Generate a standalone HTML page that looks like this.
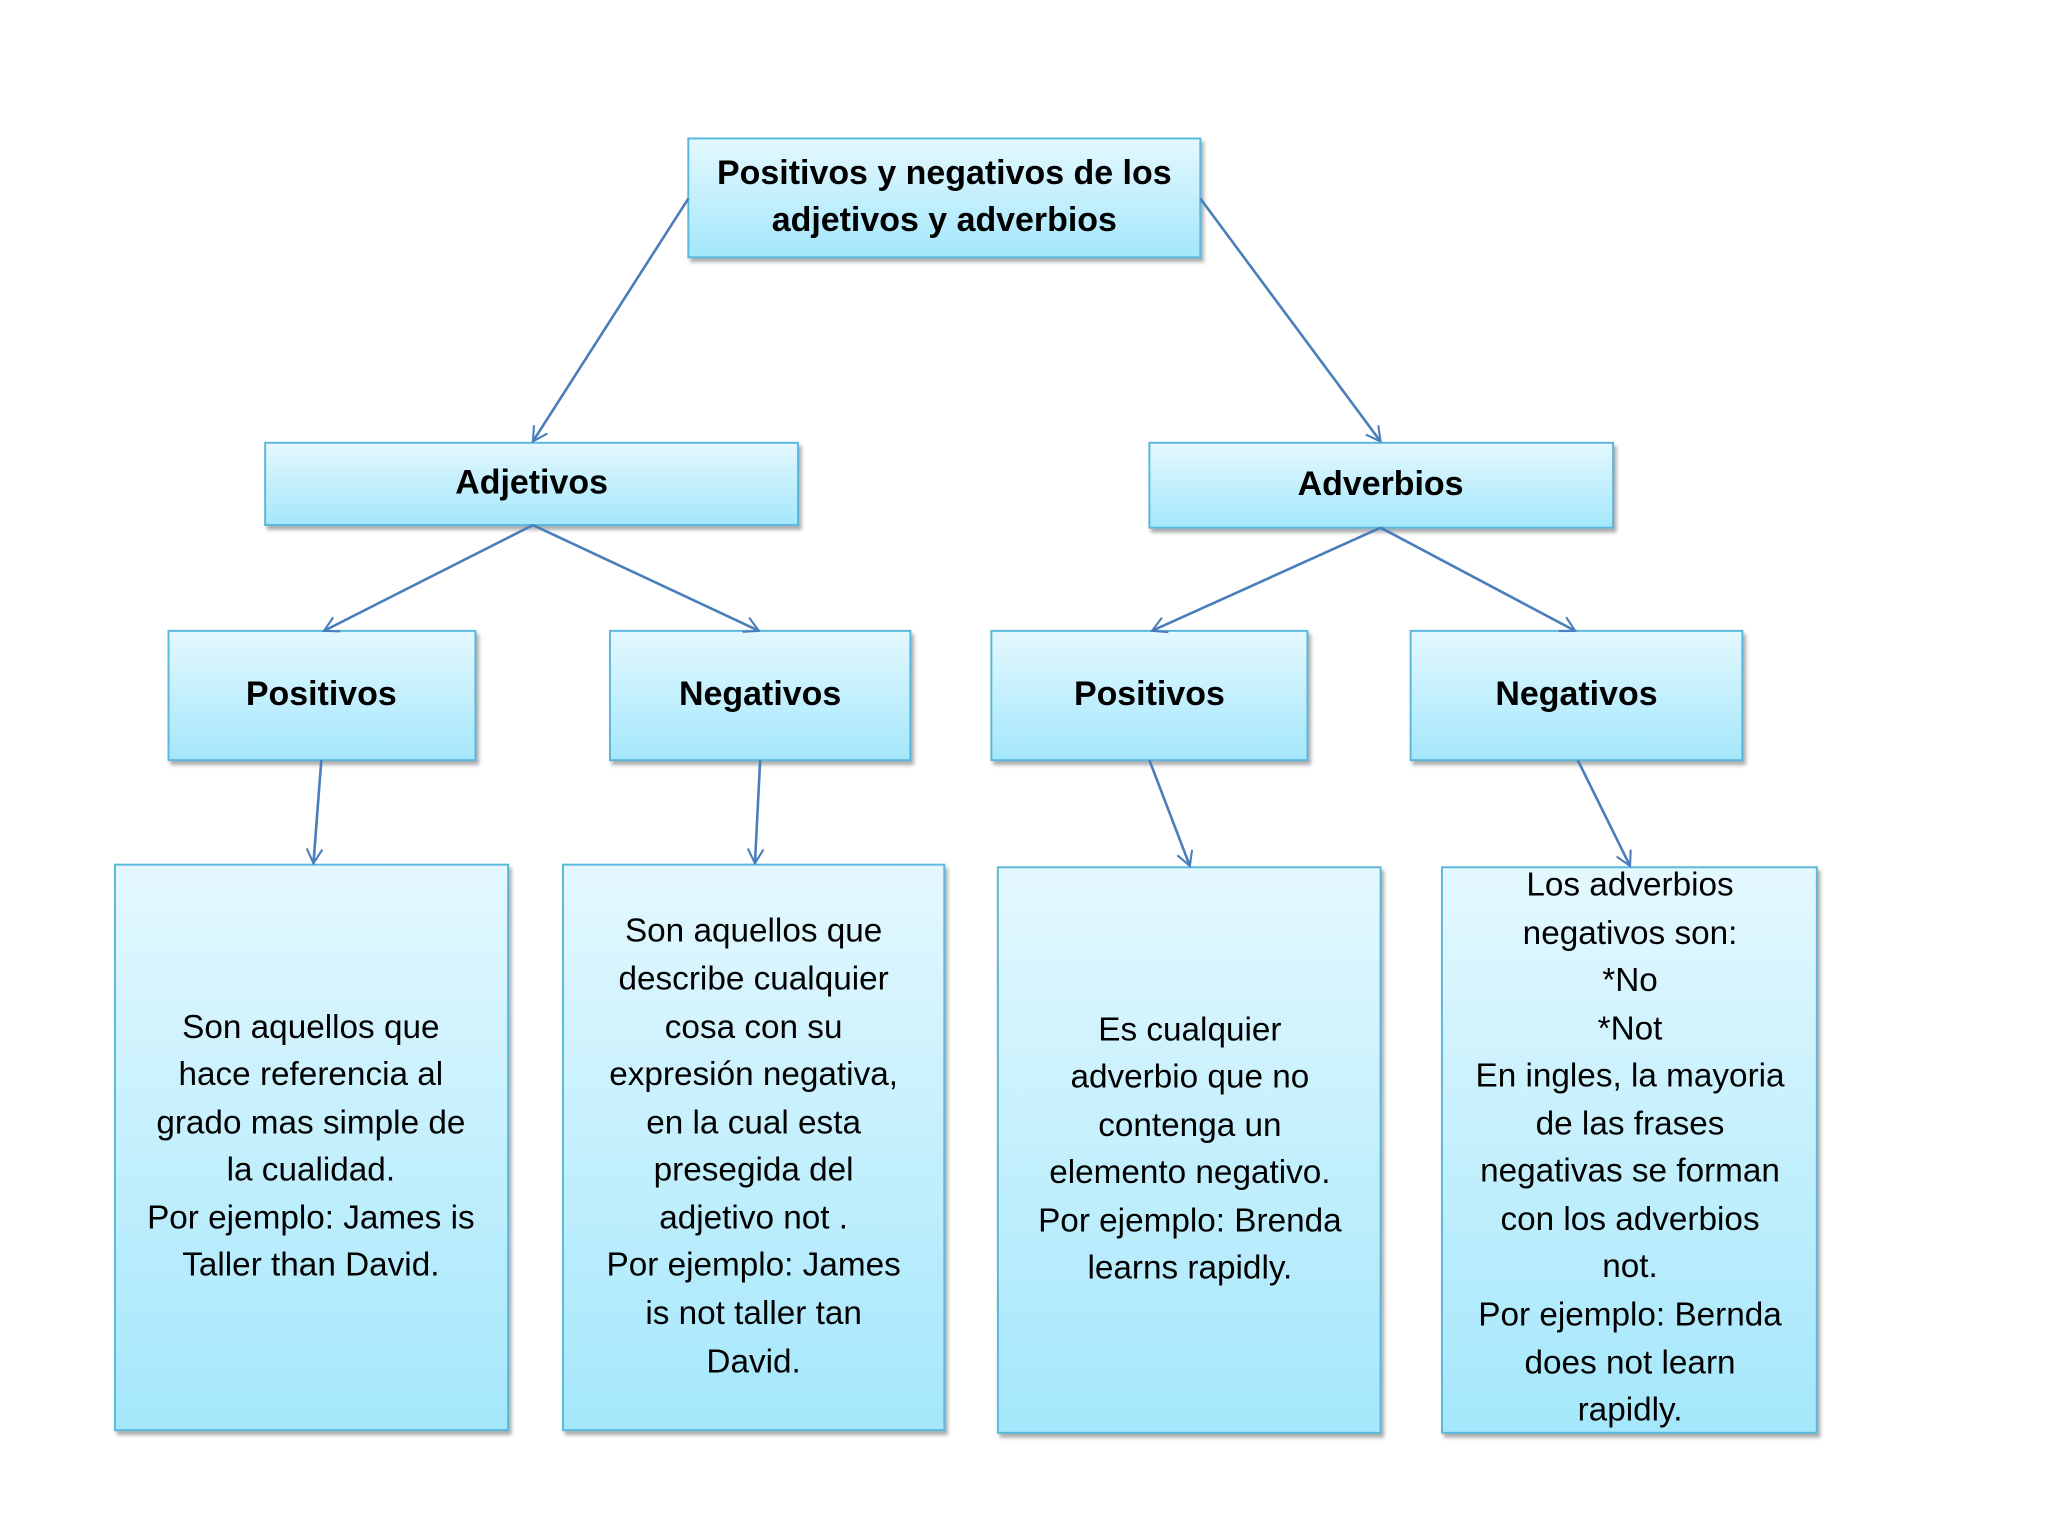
<!DOCTYPE html>
<html><head><meta charset="utf-8"><style>
html,body{margin:0;padding:0;background:#fff;}
svg{display:block;}
text{font-family:"Liberation Sans",sans-serif;fill:#000;text-anchor:middle;dominant-baseline:middle;}
.b{font-weight:bold;font-size:26px;}
.t{font-size:25.5px;}
</style></head><body>
<svg width="2048" height="1536" viewBox="0 0 1568 1176" preserveAspectRatio="none" xmlns="http://www.w3.org/2000/svg">
<defs>
<linearGradient id="g" x1="0" y1="0" x2="0" y2="1">
<stop offset="0" stop-color="#e4f8fe"/><stop offset="1" stop-color="#a4e7fb"/>
</linearGradient>
<filter id="s" x="-5%" y="-5%" width="110%" height="115%"><feDropShadow dx="2" dy="3" stdDeviation="1.5" flood-color="#777" flood-opacity="0.6"/></filter>
<marker id="a" markerWidth="14" markerHeight="14" refX="12" refY="7" orient="auto" markerUnits="userSpaceOnUse">
<path d="M1,1 L12,7 L1,13" fill="none" stroke="#4a7ebb" stroke-width="1.6"/></marker>
</defs>
<g fill="url(#g)" stroke="#5ab8dc" stroke-width="1.5" filter="url(#s)">
<rect x="527" y="106" width="392" height="91"/>
<rect x="203" y="339" width="408" height="63"/>
<rect x="880" y="339" width="355" height="65"/>
<rect x="129" y="483" width="235" height="99"/>
<rect x="467" y="483" width="230" height="99"/>
<rect x="759" y="483" width="242" height="99"/>
<rect x="1080" y="483" width="254" height="99"/>
<rect x="88" y="662" width="301" height="433"/>
<rect x="431" y="662" width="292" height="433"/>
<rect x="764" y="664" width="293" height="433"/>
<rect x="1104" y="664" width="287" height="433"/>
</g>
<g stroke="#4a7ebb" stroke-width="2" marker-end="url(#a)">
<line x1="527" y1="152" x2="408" y2="338"/>
<line x1="919" y1="152" x2="1057" y2="338"/>
<line x1="408" y1="402" x2="248" y2="483"/>
<line x1="408" y1="402" x2="581" y2="483"/>
<line x1="1057" y1="404" x2="882" y2="483"/>
<line x1="1057" y1="404" x2="1206" y2="483"/>
<line x1="246" y1="582" x2="240" y2="661"/>
<line x1="582" y1="582" x2="578" y2="661"/>
<line x1="880" y1="582" x2="911" y2="663"/>
<line x1="1208" y1="582" x2="1248" y2="663"/>
</g>
<text class="b" x="723" y="134">Positivos y negativos de los</text>
<text class="b" x="723" y="170">adjetivos y adverbios</text>
<text class="b" x="407" y="371">Adjetivos</text>
<text class="b" x="1057" y="372">Adverbios</text>
<text class="b" x="246" y="533">Positivos</text>
<text class="b" x="582" y="533">Negativos</text>
<text class="b" x="880" y="533">Positivos</text>
<text class="b" x="1207" y="533">Negativos</text>
<g class="t">
<text x="238" y="788">Son aquellos  que</text>
<text x="238" y="824">hace referencia al</text>
<text x="238" y="861">grado mas simple de</text>
<text x="238" y="897">la cualidad.</text>
<text x="238" y="934">Por ejemplo: James is</text>
<text x="238" y="970">Taller than David.</text>

<text x="577" y="714">Son aquellos  que</text>
<text x="577" y="751">describe cualquier</text>
<text x="577" y="788">cosa con su</text>
<text x="577" y="824">expresión negativa,</text>
<text x="577" y="861">en la cual  esta</text>
<text x="577" y="897">presegida del</text>
<text x="577" y="934">adjetivo not .</text>
<text x="577" y="970">Por ejemplo: James</text>
<text x="577" y="1007">is not taller tan</text>
<text x="577" y="1044">David.</text>

<text x="911" y="790">Es cualquier</text>
<text x="911" y="826">adverbio que no</text>
<text x="911" y="863">contenga un</text>
<text x="911" y="899">elemento negativo.</text>
<text x="911" y="936">Por ejemplo: Brenda</text>
<text x="911" y="972">learns rapidly.</text>

<text x="1248" y="679">Los adverbios</text>
<text x="1248" y="716">negativos son:</text>
<text x="1248" y="752">*No</text>
<text x="1248" y="789">*Not</text>
<text x="1248" y="825">En ingles, la mayoria</text>
<text x="1248" y="862">de las frases</text>
<text x="1248" y="898">negativas se forman</text>
<text x="1248" y="935">con los adverbios</text>
<text x="1248" y="971">not.</text>
<text x="1248" y="1008">Por ejemplo: Bernda</text>
<text x="1248" y="1045">does not learn</text>
<text x="1248" y="1081">rapidly.</text>
</g>
</svg>
</body></html>
